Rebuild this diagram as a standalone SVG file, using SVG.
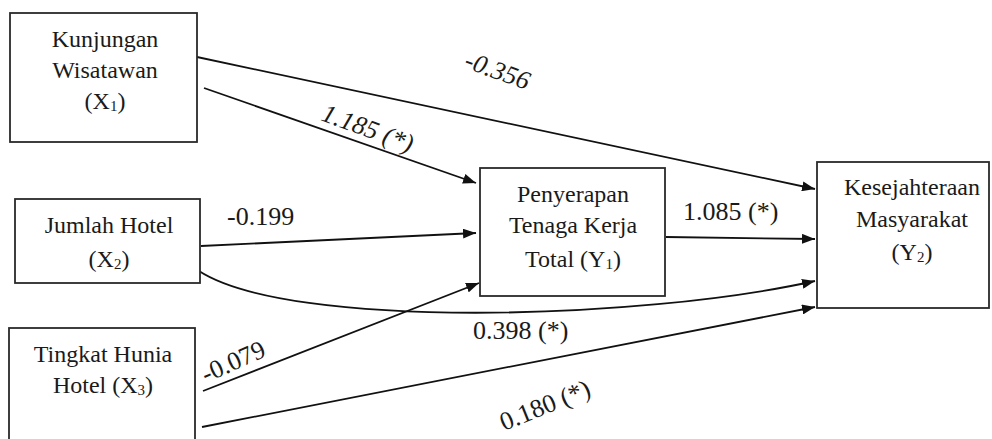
<svg xmlns="http://www.w3.org/2000/svg" width="992" height="439" viewBox="0 0 992 439">
<style>
.box{fill:#fff;stroke:#2a2a2a;stroke-width:1.8}
.nt{font-family:"Liberation Serif","Times New Roman",serif;font-size:24px;fill:#1a1a1a;text-anchor:middle}
.lb{font-family:"Liberation Serif","Times New Roman",serif;font-size:26px;fill:#1a1a1a}
.it{font-style:italic}
.sub{font-size:15px}
.cn{fill:none;stroke:#111;stroke-width:1.8;marker-end:url(#ah)}
</style>
<defs>
<marker id="ah" markerUnits="userSpaceOnUse" markerWidth="14" markerHeight="10" refX="13" refY="5" orient="auto">
<path d="M0,0 L13,5 L0,10 Z" fill="#111"/>
</marker>
</defs>
<rect width="992" height="439" fill="#fff"/>
<g id="connectors">
<path class="cn" d="M197,57 L815,189"/>
<path class="cn" d="M204,88 L476,183"/>
<path class="cn" d="M201,246 L476,233"/>
<path class="cn" d="M666,237 L815,239"/>
<path class="cn" d="M199,271 C290,330 640,320 815,281"/>
<path class="cn" d="M203,391 L479,283"/>
<path class="cn" d="M202,427 L815,307"/>
</g>
<g id="node-x1">
<rect class="box" x="10" y="13" width="187" height="129"/>
<text class="nt" x="105" y="47">Kunjungan</text>
<text class="nt" x="105" y="78">Wisatawan</text>
<text class="nt" x="105" y="109">(X<tspan class="sub" dy="2">1</tspan><tspan dy="-2">)</tspan></text>
</g>
<g id="node-x2">
<rect class="box" x="15" y="199" width="185" height="84"/>
<text class="nt" x="109" y="233">Jumlah Hotel</text>
<text class="nt" x="109" y="267">(X<tspan class="sub" dy="2">2</tspan><tspan dy="-2">)</tspan></text>
</g>
<g id="node-x3">
<rect class="box" x="9" y="328" width="186" height="130"/>
<text class="nt" x="103" y="362">Tingkat Hunia</text>
<text class="nt" x="103" y="393">Hotel (X<tspan class="sub" dy="2">3</tspan><tspan dy="-2">)</tspan></text>
</g>
<g id="node-y1">
<rect class="box" x="480" y="168" width="185" height="128"/>
<text class="nt" x="573" y="202">Penyerapan</text>
<text class="nt" x="573" y="233">Tenaga Kerja</text>
<text class="nt" x="573" y="267">Total (Y<tspan class="sub" dy="2">1</tspan><tspan dy="-2">)</tspan></text>
</g>
<g id="node-y2">
<rect class="box" x="817" y="162" width="172" height="146"/>
<text class="nt" x="912" y="195">Kesejahteraan</text>
<text class="nt" x="912" y="227">Masyarakat</text>
<text class="nt" x="912" y="260">(Y<tspan class="sub" dy="2">2</tspan><tspan dy="-2">)</tspan></text>
</g>
<g id="labels">
<text class="lb it" transform="translate(463,67) rotate(20)">-0.356</text>
<text class="lb it" transform="translate(320,120) rotate(20)">1.185 (*)</text>
<text class="lb" x="227" y="225">-0.199</text>
<text class="lb" x="683" y="220">1.085 (*)</text>
<text class="lb" x="473" y="339">0.398 (*)</text>
<text class="lb" transform="translate(206,383) rotate(-24)">-0.079</text>
<text class="lb" transform="translate(504,431) rotate(-22)">0.180 (*)</text>
</g>
</svg>
